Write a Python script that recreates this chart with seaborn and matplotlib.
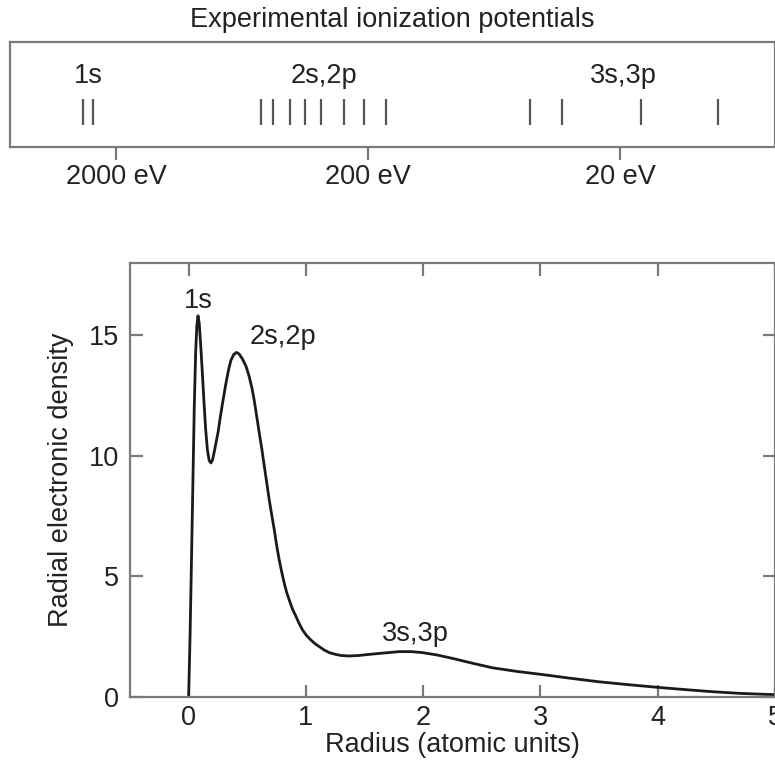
import matplotlib
matplotlib.use("Agg")
import matplotlib.pyplot as plt
import seaborn as sns
import numpy as np
import pandas as pd

# ---------------- data ----------------
# Experimental ionization potentials (eV), grouped by shell
ip_1s = [2696, 2474]
ip_2s2p = [532, 478, 407, 355, 307, 249, 207, 169]
ip_3s3p = [45.5, 33.9, 16.5, 8.2]
ip_groups = ["1s", "2s,2p", "3s,3p"]
ip_ticks = [2000, 200, 20]
ip_tick_labels = ["2000 eV", "200 eV", "20 eV"]

# Radial electronic density curve
radius = [0.000, 0.012, 0.024, 0.036, 0.048, 0.060, 0.070, 0.080, 0.090, 0.100,
          0.115, 0.130, 0.145, 0.160, 0.175, 0.190, 0.205, 0.220, 0.236, 0.252,
          0.270, 0.290, 0.318, 0.340, 0.360, 0.385, 0.408, 0.430, 0.460, 0.490,
          0.517, 0.540, 0.559, 0.580, 0.602, 0.625, 0.645, 0.667, 0.687, 0.710,
          0.730, 0.750, 0.772, 0.795, 0.815, 0.835, 0.857, 0.885, 0.915, 0.945,
          0.971, 1.005, 1.043, 1.080, 1.113, 1.155, 1.199, 1.250, 1.300, 1.369,
          1.450, 1.568, 1.680, 1.795, 1.900, 1.994, 2.120, 2.250, 2.420, 2.591,
          2.800, 3.017, 3.250, 3.500, 3.750, 4.001, 4.250, 4.466, 4.700, 4.922,
          5.000]
density = [0.00, 2.50, 5.60, 8.80, 12.00, 14.30, 15.40, 15.80, 15.50, 14.80,
           13.60, 12.30, 11.10, 10.25, 9.80, 9.70, 9.85, 10.20, 10.60, 11.00,
           11.60, 12.20, 13.00, 13.55, 13.95, 14.20, 14.28, 14.22, 14.00, 13.70,
           13.27, 12.80, 12.30, 11.65, 10.95, 10.25, 9.57, 8.85, 8.18, 7.50,
           6.94, 6.30, 5.69, 5.15, 4.72, 4.35, 4.03, 3.65, 3.34, 3.02,
           2.78, 2.55, 2.36, 2.20, 2.09, 1.95, 1.84, 1.77, 1.72, 1.70,
           1.72, 1.78, 1.83, 1.88, 1.88, 1.84, 1.74, 1.60, 1.40, 1.21,
           1.06, 0.93, 0.78, 0.63, 0.51, 0.40, 0.30, 0.22, 0.15, 0.11,
           0.10]
peak_labels = ["1s", "2s,2p", "3s,3p"]

# ---------------- style ----------------
sns.set_style("ticks")
plt.rcParams["font.family"] = ["Liberation Sans", "DejaVu Sans"]
txt = "#222222"
spine_c = "#7a7a7a"
fs = 19.5

fig = plt.figure(figsize=(7.75, 7.69), dpi=100)

# ---------------- top panel ----------------
ax1 = fig.add_axes([10 / 775, 1 - 147 / 769, 765 / 775, 105 / 769])
ax1.set_xscale("log")
ax1.set_xlim(5268, 4.85)
ax1.set_ylim(0, 1)
groups = [ip_1s, ip_2s2p, ip_3s3p]
for vals, name in zip(groups, ip_groups):
    ax1.vlines(vals, 0.21, 0.457, color="#555555", lw=1.6)
    mid = 10 ** ((np.log10(max(vals)) + np.log10(min(vals))) / 2)
    ax1.text(mid, 0.68, name, ha="center", va="center", fontsize=fs, color=txt)
ax1.set_xticks(ip_ticks)
ax1.set_xticklabels(ip_tick_labels)
ax1.xaxis.set_minor_locator(matplotlib.ticker.NullLocator())
ax1.set_yticks([])
ax1.tick_params(axis="x", direction="out", length=9, width=1.6, color=spine_c,
                labelsize=fs, labelcolor=txt, pad=3)
for s in ax1.spines.values():
    s.set_color(spine_c)
    s.set_linewidth(1.6)
ax1.set_title("Experimental ionization potentials", fontsize=fs, color=txt, pad=11)

# ---------------- bottom panel ----------------
ax2 = fig.add_axes([130 / 775, 1 - 697 / 769, 645 / 775, 434.3 / 769])
df = pd.DataFrame({"Radius": radius, "Density": density})
sns.lineplot(data=df, x="Radius", y="Density", ax=ax2, color="#1a1a1a", lw=2.0)
ax2.set_xlim(-0.5, 5.0)
ax2.set_ylim(0, 18)
ax2.set_xticks([0, 1, 2, 3, 4, 5])
ax2.set_yticks([0, 5, 10, 15])
ax2.tick_params(direction="in", length=9, width=1.6, color=spine_c,
                labelsize=fs, labelcolor=txt, top=True, right=True)
ax2.tick_params(axis="x", pad=6)
ax2.tick_params(axis="y", pad=8)
for s in ax2.spines.values():
    s.set_color(spine_c)
    s.set_linewidth(1.6)
ax2.set_xlabel("Radius (atomic units)", fontsize=fs, color=txt)
ax2.set_ylabel("Radial electronic density", fontsize=fs, color=txt)
ax2.xaxis.set_label_coords(0.5, -0.11)
ax2.xaxis.label.set_va("center")
ax2.yaxis.set_label_coords(-0.107, 0.5)
ax2.yaxis.label.set_va("center")

# peak labels placed above the corresponding maxima
r = np.array(radius)
d = np.array(density)
i1 = int(np.argmax(np.where(r < 0.15, d, -1)))
i2 = int(np.argmax(np.where((r > 0.25) & (r < 0.8), d, -1)))
i3 = int(np.argmax(np.where(r > 1.5, d, -1)))
ax2.text(r[i1], d[i1] + 0.6, peak_labels[0], ha="center", va="center", fontsize=fs, color=txt)
ax2.text(r[i2] + 0.40, d[i2] + 0.65, peak_labels[1], ha="center", va="center", fontsize=fs, color=txt)
ax2.text(r[i3] + 0.14, d[i3] + 0.75, peak_labels[2], ha="center", va="center", fontsize=fs, color=txt)

fig.savefig("out.png", dpi=100)
